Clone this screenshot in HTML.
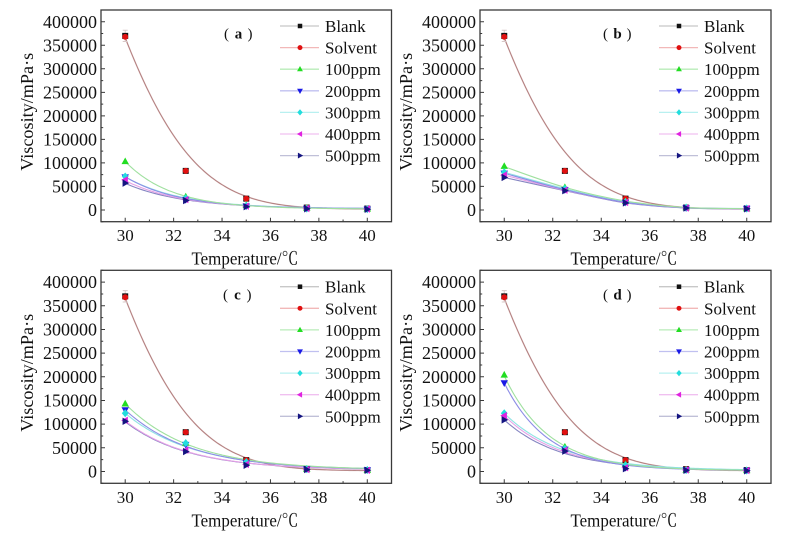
<!DOCTYPE html>
<html>
<head>
<meta charset="utf-8">
<style>
html,body{margin:0;padding:0;background:#fff;}
svg{display:block;}
text{font-family:"Liberation Serif","Noto Serif CJK SC",serif;fill:#111;}
.yt{font-size:18px;text-anchor:end;}
.xt{font-size:17px;text-anchor:middle;}
.ttl{font-size:17.5px;text-anchor:middle;}
.lg{font-size:17px;}
.pl{font-size:15px;text-anchor:middle;}
</style>
</head>
<body>
<svg id="s" width="786" height="541" viewBox="0 0 786 541" xmlns="http://www.w3.org/2000/svg">
<rect width="786" height="541" fill="#fff"/>
<g id="geo"></g>

<!-- Panel a -->
<g transform="translate(101,10)">
<text class="yt" x="-4" y="205.9">0</text>
<text class="yt" x="-4" y="182.4">50000</text>
<text class="yt" x="-4" y="158.9">100000</text>
<text class="yt" x="-4" y="135.4">150000</text>
<text class="yt" x="-4" y="111.9">200000</text>
<text class="yt" x="-4" y="88.3">250000</text>
<text class="yt" x="-4" y="64.8">300000</text>
<text class="yt" x="-4" y="41.3">350000</text>
<text class="yt" x="-4" y="17.8">400000</text>
<text class="xt" x="24.2" y="231">30</text>
<text class="xt" x="72.6" y="231">32</text>
<text class="xt" x="121" y="231">34</text>
<text class="xt" x="169.5" y="231">36</text>
<text class="xt" x="217.9" y="231">38</text>
<text class="xt" x="266.3" y="231">40</text>
<text class="ttl" x="144" y="254.7" textLength="107" lengthAdjust="spacingAndGlyphs">Temperature/℃</text>
<text class="ttl" transform="translate(-68,101.8) rotate(-90)" x="0" y="0" textLength="118" lengthAdjust="spacingAndGlyphs">Viscosity/mPa·s</text>
<text class="lg" x="224" y="22">Blank</text>
<text class="lg" x="224" y="43.6">Solvent</text>
<text class="lg" x="224" y="65.2">100ppm</text>
<text class="lg" x="224" y="86.8">200ppm</text>
<text class="lg" x="224" y="108.4">300ppm</text>
<text class="lg" x="224" y="130">400ppm</text>
<text class="lg" x="224" y="151.6">500ppm</text>
<text class="pl" x="125.5" y="28.5">(</text>
<text class="pl" x="137.5" y="28.5" font-weight="bold">a</text>
<text class="pl" x="149" y="28.5">)</text>
</g>

<!-- Panel b -->
<g transform="translate(480,10)">
<text class="yt" x="-4" y="205.9">0</text>
<text class="yt" x="-4" y="182.4">50000</text>
<text class="yt" x="-4" y="158.9">100000</text>
<text class="yt" x="-4" y="135.4">150000</text>
<text class="yt" x="-4" y="111.9">200000</text>
<text class="yt" x="-4" y="88.3">250000</text>
<text class="yt" x="-4" y="64.8">300000</text>
<text class="yt" x="-4" y="41.3">350000</text>
<text class="yt" x="-4" y="17.8">400000</text>
<text class="xt" x="24.25" y="231">30</text>
<text class="xt" x="72.75" y="231">32</text>
<text class="xt" x="121.25" y="231">34</text>
<text class="xt" x="169.75" y="231">36</text>
<text class="xt" x="218.25" y="231">38</text>
<text class="xt" x="266.75" y="231">40</text>
<text class="ttl" x="144" y="254.7" textLength="107" lengthAdjust="spacingAndGlyphs">Temperature/℃</text>
<text class="ttl" transform="translate(-68,101.8) rotate(-90)" x="0" y="0" textLength="118" lengthAdjust="spacingAndGlyphs">Viscosity/mPa·s</text>
<text class="lg" x="224" y="22">Blank</text>
<text class="lg" x="224" y="43.6">Solvent</text>
<text class="lg" x="224" y="65.2">100ppm</text>
<text class="lg" x="224" y="86.8">200ppm</text>
<text class="lg" x="224" y="108.4">300ppm</text>
<text class="lg" x="224" y="130">400ppm</text>
<text class="lg" x="224" y="151.6">500ppm</text>
<text class="pl" x="125.5" y="28.5">(</text>
<text class="pl" x="137.5" y="28.5" font-weight="bold">b</text>
<text class="pl" x="149" y="28.5">)</text>
</g>

<!-- Panel c -->
<g transform="translate(101,270.3)">
<text class="yt" x="-4" y="207.2">0</text>
<text class="yt" x="-4" y="183.5">50000</text>
<text class="yt" x="-4" y="159.8">100000</text>
<text class="yt" x="-4" y="136.2">150000</text>
<text class="yt" x="-4" y="112.5">200000</text>
<text class="yt" x="-4" y="88.8">250000</text>
<text class="yt" x="-4" y="65.2">300000</text>
<text class="yt" x="-4" y="41.5">350000</text>
<text class="yt" x="-4" y="17.8">400000</text>
<text class="xt" x="24.2" y="232.5">30</text>
<text class="xt" x="72.6" y="232.5">32</text>
<text class="xt" x="121" y="232.5">34</text>
<text class="xt" x="169.5" y="232.5">36</text>
<text class="xt" x="217.9" y="232.5">38</text>
<text class="xt" x="266.3" y="232.5">40</text>
<text class="ttl" x="144" y="256" textLength="107" lengthAdjust="spacingAndGlyphs">Temperature/℃</text>
<text class="ttl" transform="translate(-68,102.5) rotate(-90)" x="0" y="0" textLength="118" lengthAdjust="spacingAndGlyphs">Viscosity/mPa·s</text>
<text class="lg" x="224" y="22.4">Blank</text>
<text class="lg" x="224" y="44">Solvent</text>
<text class="lg" x="224" y="65.6">100ppm</text>
<text class="lg" x="224" y="87.2">200ppm</text>
<text class="lg" x="224" y="108.8">300ppm</text>
<text class="lg" x="224" y="130.4">400ppm</text>
<text class="lg" x="224" y="152">500ppm</text>
<text class="pl" x="124.5" y="29">(</text>
<text class="pl" x="136.5" y="29" font-weight="bold">c</text>
<text class="pl" x="148" y="29">)</text>
</g>

<!-- Panel d -->
<g transform="translate(480,270.3)">
<text class="yt" x="-4" y="207.2">0</text>
<text class="yt" x="-4" y="183.5">50000</text>
<text class="yt" x="-4" y="159.8">100000</text>
<text class="yt" x="-4" y="136.2">150000</text>
<text class="yt" x="-4" y="112.5">200000</text>
<text class="yt" x="-4" y="88.8">250000</text>
<text class="yt" x="-4" y="65.2">300000</text>
<text class="yt" x="-4" y="41.5">350000</text>
<text class="yt" x="-4" y="17.8">400000</text>
<text class="xt" x="24.25" y="232.5">30</text>
<text class="xt" x="72.75" y="232.5">32</text>
<text class="xt" x="121.25" y="232.5">34</text>
<text class="xt" x="169.75" y="232.5">36</text>
<text class="xt" x="218.25" y="232.5">38</text>
<text class="xt" x="266.75" y="232.5">40</text>
<text class="ttl" x="144" y="256" textLength="107" lengthAdjust="spacingAndGlyphs">Temperature/℃</text>
<text class="ttl" transform="translate(-68,102.5) rotate(-90)" x="0" y="0" textLength="118" lengthAdjust="spacingAndGlyphs">Viscosity/mPa·s</text>
<text class="lg" x="224" y="22.4">Blank</text>
<text class="lg" x="224" y="44">Solvent</text>
<text class="lg" x="224" y="65.6">100ppm</text>
<text class="lg" x="224" y="87.2">200ppm</text>
<text class="lg" x="224" y="108.8">300ppm</text>
<text class="lg" x="224" y="130.4">400ppm</text>
<text class="lg" x="224" y="152">500ppm</text>
<text class="pl" x="125.5" y="29">(</text>
<text class="pl" x="137.5" y="29" font-weight="bold">d</text>
<text class="pl" x="149" y="29">)</text>
</g>
</svg>

<script>
(function(){
const NS="http://www.w3.org/2000/svg";
function el(tag,attrs,parent){const e=document.createElementNS(NS,tag);for(const k in attrs)e.setAttribute(k,attrs[k]);parent.appendChild(e);return e;}
const geo=document.getElementById('geo');
const XS=[30,32.5,35,37.5,40];
const E=(y0,A,t)=>x=>y0+A*Math.exp(-(x-30)/t);
const BS=x=>{const u=x-30;return Math.exp(12.81-0.358*u-0.0312*u*u)+150*u;};
const COL=['#22dd22','#1a1ae6','#22dddd','#e022e0','#141480'];
const FCOL=['#9fe09f','#8c8ce6','#8fe3e3','#e6a0e6','#8585c2'];
const LCOL=['#c8c8c8','#f2b8b8','#b8ecb8','#c0c0f0','#b8f0f0','#f0c0f0','#c0c0d8'];

const panels=[
 {L:101,T:10,W:290.5,H:211.7,
  m:[[103000,28000,10000,4000,2000],[70000,22000,8000,3000,1500],[71000,25000,9000,3000,2000],[64000,22000,8000,3000,2000],[57000,20000,7000,2500,1500]],
  f:[E(2000,101000,1.9),E(2500,68000,2.2),E(2500,68000,2.3),E(2500,60000,2.3),E(2500,54000,2.4)]},
 {L:480,T:10,W:291,H:211.7,
  m:[[93000,48000,18000,5000,3000],[78000,43000,16000,4000,3000],[80000,45000,17000,5000,3000],[74000,42000,16000,4000,3000],[69000,41000,15000,4000,2500]],
  f:[[92000,48000,19000,5000,3000],[78000,43000,16000,4500,3000],[80000,45000,17000,5000,3000],[74000,42000,16000,4500,3000],[69000,41000,15000,4000,2500]]},
 {L:101,T:270.3,W:290.5,H:213,
  m:[[143000,60000,20000,5000,3000],[130000,57000,18000,5000,3000],[123000,60000,20000,5000,3000],[108000,45000,15000,4000,2500],[106000,42000,13000,4000,2500]],
  f:[E(3000,140000,2.7),E(3000,127000,2.7),E(3000,120000,2.8),E(3000,104000,2.6),E(3000,102000,2.6)]},
 {L:480,T:270.3,W:291,H:213,
  m:[[204000,52000,15000,3000,2000],[187000,47000,8000,3000,2000],[123000,48000,13000,3000,2000],[118000,45000,8000,3000,2000],[109000,43000,6000,2500,1500]],
  f:[E(2000,200000,1.85),E(2000,185000,1.8),E(2000,121000,2.4),E(2000,116000,2.3),E(2000,107000,2.3)]}
];
const blankM=[370000,83000,24000,5000,3000], solvM=[368000,83000,24000,5000,3000];

function crPath(p){
 let d='M'+p[0][0].toFixed(2)+','+p[0][1].toFixed(2);
 for(let i=0;i<p.length-1;i++){
  const p0=p[i-1]||p[i],p1=p[i],p2=p[i+1],p3=p[i+2]||p[i+1];
  const c1=[p1[0]+(p2[0]-p0[0])/6,p1[1]+(p2[1]-p0[1])/6];
  const c2=[p2[0]-(p3[0]-p1[0])/6,p2[1]-(p3[1]-p1[1])/6];
  d+=' C'+c1[0].toFixed(2)+','+c1[1].toFixed(2)+' '+c2[0].toFixed(2)+','+c2[1].toFixed(2)+' '+p2[0].toFixed(2)+','+p2[1].toFixed(2);
 }
 return d;
}
function marker(g,type,x,y,c,s){
 s=s||1;
 const q=(a)=>a.map(v=>(v[0]*s+x).toFixed(2)+','+(v[1]*s+y).toFixed(2)).join(' ');
 if(type==0) el('rect',{x:x-3*s,y:y-3*s,width:6*s,height:6*s,fill:c},g);
 else if(type==1) el('circle',{cx:x,cy:y,r:3.3*s,fill:c},g);
 else if(type==2) el('polygon',{points:q([[0,-4.2],[-3.9,2.8],[3.9,2.8]]),fill:c},g);
 else if(type==3) el('polygon',{points:q([[0,4.2],[-3.9,-2.8],[3.9,-2.8]]),fill:c},g);
 else if(type==4) el('polygon',{points:q([[0,-4.2],[3.6,0],[0,4.2],[-3.6,0]]),fill:c},g);
 else if(type==5) el('polygon',{points:q([[-4.2,0],[2.8,-3.9],[2.8,3.9]]),fill:c},g);
 else el('polygon',{points:q([[4.2,0],[-2.8,-3.9],[-2.8,3.9]]),fill:c},g);
}

panels.forEach(P=>{
 const g=el('g',{transform:'translate('+P.L+','+P.T+')'},geo);
 const X=x=>(x-29)/12*P.W, Y=y=>P.H-(y+25000)/450000*P.H;
 const fn=(f)=>{const pts=[];for(let i=0;i<=80;i++){const x=30+i*10/80;pts.push([X(x),Y(f(x))]);}return pts;};
 const bs=fn(BS);
 el('path',{d:crPath(bs),fill:'none',stroke:'#d8b8b8','stroke-width':1.4},g);
 el('path',{d:crPath(bs),fill:'none',stroke:'#b07c7c','stroke-width':0.8},g);
 for(let i=4;i>=0;i--){
  const f=P.f[i];
  let pts;
  if(typeof f==='function') pts=fn(f); else pts=XS.map((x,j)=>[X(x),Y(f[j])]);
  el('path',{d:crPath(pts),fill:'none',stroke:FCOL[i],'stroke-width':1.1},g);
 }
 const ex=X(30);
 el('path',{d:'M'+ex+','+Y(382000)+' V'+Y(358000)+' M'+(ex-2.5)+','+Y(382000)+' h5 M'+(ex-2.5)+','+Y(358000)+' h5',stroke:'#d8c8c8','stroke-width':1,fill:'none'},g);
 XS.forEach((x,j)=>marker(g,0,X(x),Y(blankM[j]),'#111'));
 XS.forEach((x,j)=>marker(g,1,X(x),Y(solvM[j]),'#e01010',0.9));
 for(let i=0;i<5;i++){
  XS.forEach((x,j)=>marker(g,i+2,X(x),Y(P.m[i][j]),COL[i],0.95));
 }
 el('rect',{x:0,y:0,width:P.W,height:P.H,fill:'none',stroke:'#3a3a3a','stroke-width':1.3},g);
 let d='';
 for(let x=30;x<=40;x+=2) d+='M'+X(x).toFixed(2)+','+P.H+' v-4 ';
 for(let x=29;x<=41;x+=2) d+='M'+X(x).toFixed(2)+','+P.H+' v-2.2 ';
 for(let y=0;y<=400000;y+=50000) d+='M0,'+Y(y).toFixed(2)+' h4 ';
 for(let y=-25000;y<=425000;y+=50000) d+='M0,'+Y(y).toFixed(2)+' h2.2 ';
 el('path',{d:d,stroke:'#3a3a3a','stroke-width':1,fill:'none'},g);
 for(let k=0;k<7;k++){
  const cy=16+21.6*k + (P.H>212?0.4:0);
  el('line',{x1:179,y1:cy,x2:218,y2:cy,stroke:LCOL[k],'stroke-width':1.3},g);
  const c=k==0?'#111':(k==1?'#e01010':COL[k-2]);
  marker(g,k,199,cy,c,0.75);
 }
});
})();
</script>
</body>
</html>
